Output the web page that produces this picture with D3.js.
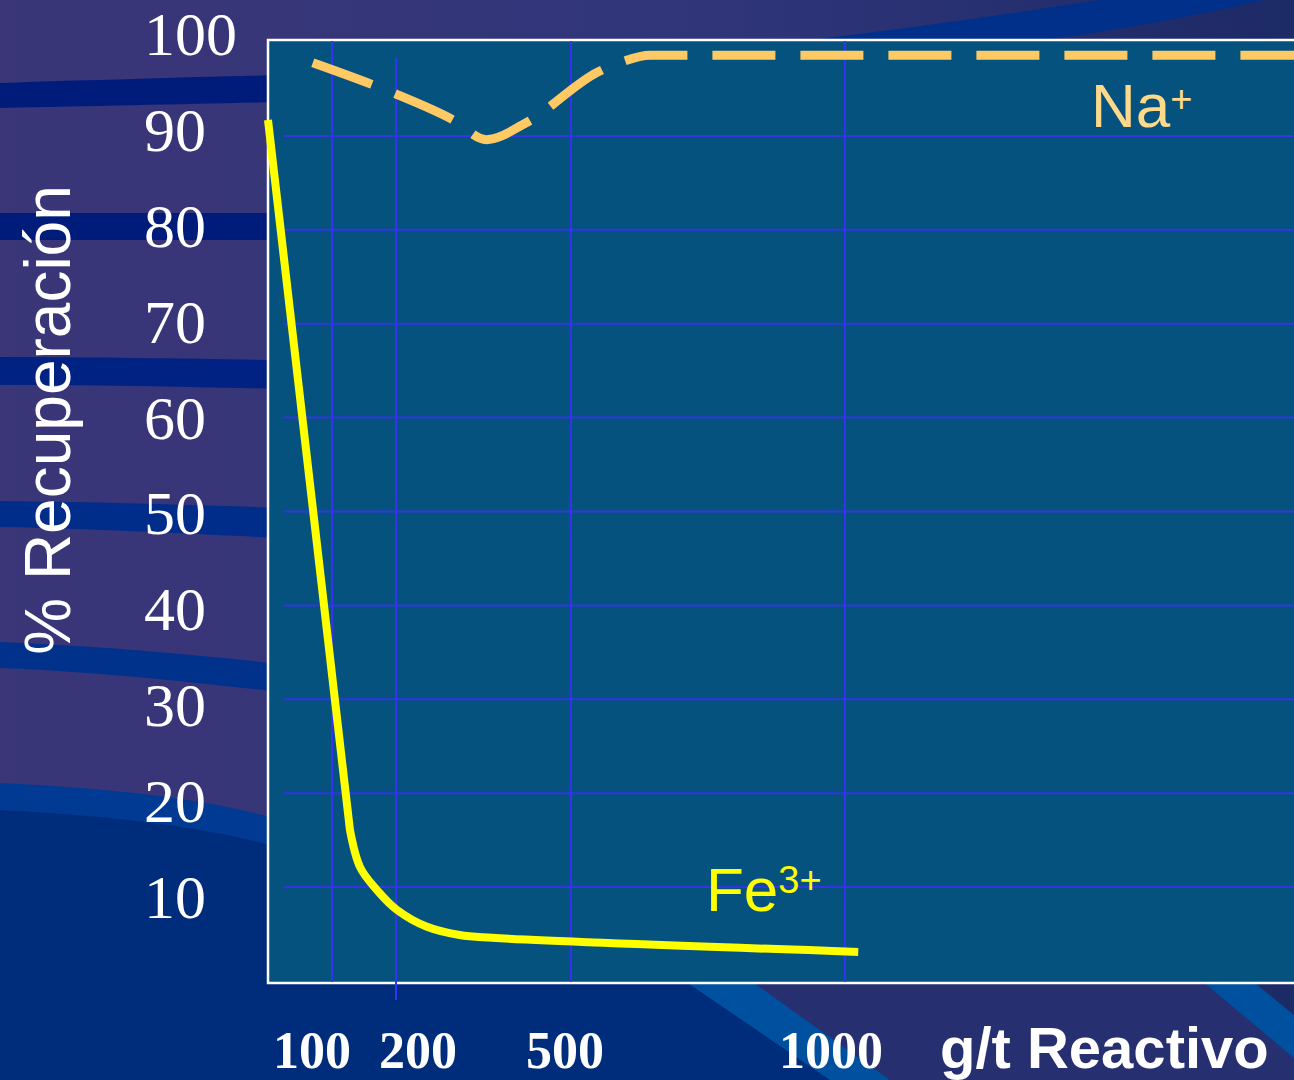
<html>
<head>
<script src="https://d3js.org/d3.v7.min.js"></script>
<style>
body { margin: 0; background: #2a2f72; }
svg { display: block; }
</style>
</head>
<body>
<div id="chart"></div>
<script>
// data
const xTicks = [100, 200, 500, 1000];
const yTicks = [10, 20, 30, 40, 50, 60, 70, 80, 90, 100];

const feX = [0, 128, 144, 170, 201, 252, 309, 365, 1023];
const feY = [91.7, 16.1, 12.1, 9.7, 7.6, 5.8, 4.9, 4.6, 3.1];

const naX = [70, 202, 298, 355, 423, 549, 593, 644, 704, 1780];
const naY = [97.8, 94.4, 91.7, 89.6, 91.4, 96.8, 97.9, 98.6, 98.6, 98.6];

const width = 1294, height = 1080;

// x axis on the slide is not quite linear, so piecewise
var x = d3.scaleLinear()
    .domain([0, 100, 200, 500, 1000, 1780])
    .range([268, 332, 396, 571, 845, 1294]);
var y = d3.scaleLinear()
    .domain([0, 100])
    .range([981, 42]);
// tick labels sit on their own even spacing (baseline positions)
var yLab = d3.scaleLinear()
    .domain([10, 100])
    .range([918, 55]);
var tickNudge = {100: -20, 200: 22, 500: -6, 1000: -14};

const svg = d3.select("#chart").append("svg")
    .attr("width", width)
    .attr("height", height);

// slide background
const defs = svg.append("defs");
const topGrad = defs.append("linearGradient").attr("id", "topg")
    .attr("x1", 0).attr("x2", 1).attr("y1", 0).attr("y2", 0);
topGrad.append("stop").attr("offset", "0").attr("stop-color", "#3a3678");
topGrad.append("stop").attr("offset", "0.55").attr("stop-color", "#30357a");
topGrad.append("stop").attr("offset", "1").attr("stop-color", "#1c2a66");

svg.append("rect").attr("width", width).attr("height", height).attr("fill", "url(#topg)");

// lower navy area
svg.append("path")
    .attr("d", "M0,810 C150,815 230,830 280,845 L280,1080 L0,1080 Z")
    .attr("fill", "#002c7c");
svg.append("path")
    .attr("d", "M0,783 C150,790 230,805 280,820 L280,848 C230,833 150,818 0,810 Z")
    .attr("fill", "#003a92");
svg.append("path")
    .attr("d", "M260,975 L680,975 L833,1080 L260,1080 Z")
    .attr("fill", "#002c7c");

// left stripes
const stripes = [
    ["M0,83 C100,80 200,77 280,75 L280,102 C200,104 100,106 0,108 Z", "#001c7a"],
    ["M0,213 L280,213 L280,240 L0,240 Z", "#001c7a"],
    ["M0,357 C100,357 200,359 280,360 L280,389 C200,387 100,385 0,385 Z", "#002282"],
    ["M0,501 C100,502 200,505 280,508 L280,538 C200,534 100,529 0,527 Z", "#002c8a"],
    ["M0,642 C100,646 200,655 280,664 L280,692 C200,683 100,672 0,668 Z", "#00328c"]
];
svg.selectAll(".stripe").data(stripes).enter().append("path")
    .attr("d", d => d[0]).attr("fill", d => d[1]);

// top right band
svg.append("path")
    .attr("d", "M790,42 C900,30 1000,15 1100,0 L1263,0 C1200,15 1120,30 1030,42 Z")
    .attr("fill", "#00308a");

// bottom diagonal bands
svg.append("path")
    .attr("d", "M676,975 L743,975 L890,1080 L830,1080 Z")
    .attr("fill", "#0050a0");
svg.append("path")
    .attr("d", "M743,975 L1195,975 L1294,1055 L1294,1080 L890,1080 Z")
    .attr("fill", "#262f70");
svg.append("path")
    .attr("d", "M1195,975 L1245,975 L1294,1015 L1294,1058 Z")
    .attr("fill", "#0050a0");

// plot area
svg.append("rect")
    .attr("x", 268).attr("y", 40)
    .attr("width", 1040).attr("height", 943)
    .attr("fill", "#05527f")
    .attr("stroke", "#ffffff")
    .attr("stroke-width", 2.5);

// horizontal grid
svg.selectAll(".hgrid").data(yTicks.filter(d => d < 100)).enter().append("line")
    .attr("x1", 284).attr("x2", width)
    .attr("y1", d => y(d)).attr("y2", d => y(d))
    .attr("stroke", "#3236e0").attr("stroke-width", 2);

// vertical grid
svg.selectAll(".vgrid").data(xTicks).enter().append("line")
    .attr("x1", d => x(d)).attr("x2", d => x(d))
    .attr("y1", d => d === 200 ? 57 : 41)
    .attr("y2", d => d === 200 ? 1000 : 982)
    .attr("stroke", "#3434f0").attr("stroke-width", 2);

// y tick labels
svg.selectAll(".ylab").data(yTicks).enter().append("text")
    .attr("x", 144)
    .attr("y", d => yLab(d))
    .attr("fill", "#ffffff")
    .style("font-family", "'Liberation Serif', 'Times New Roman', serif")
    .style("font-size", "62px")
    .text(d => d);

// x tick labels
svg.selectAll(".xlab").data(xTicks).enter().append("text")
    .attr("x", d => x(d) + tickNudge[d])
    .attr("y", 1068)
    .attr("text-anchor", "middle")
    .attr("fill", "#ffffff")
    .style("font-family", "'Liberation Serif', 'Times New Roman', serif")
    .style("font-weight", "bold")
    .style("font-size", "52px")
    .text(d => d);

// axis titles
svg.append("text")
    .attr("transform", "translate(70,420) rotate(-90)")
    .attr("text-anchor", "middle")
    .attr("fill", "#ffffff")
    .style("font-family", "'Liberation Sans', Arial, sans-serif")
    .style("font-size", "64px")
    .text("% Recuperación");

svg.append("text")
    .attr("x", 940).attr("y", 1068)
    .attr("fill", "#ffffff")
    .style("font-family", "'Liberation Sans', Arial, sans-serif")
    .style("font-weight", "bold")
    .style("font-size", "58px")
    .text("g/t Reactivo");

// curves
var smooth = d3.line()
    .x(d => x(d[0]))
    .y(d => y(d[1]))
    .curve(d3.curveMonotoneX);
var rounded = d3.line()
    .x(d => x(d[0]))
    .y(d => y(d[1]))
    .curve(d3.curveCatmullRom.alpha(0.5));
var straight = d3.line()
    .x(d => x(d[0]))
    .y(d => y(d[1]));

svg.append("path")
    .attr("d", smooth(d3.zip(naX, naY)))
    .attr("fill", "none")
    .attr("stroke", "#ffc964")
    .attr("stroke-width", 9)
    .attr("stroke-dasharray", "63,25");

// Fe3+: straight drop, then smooth tail
var fePts = d3.zip(feX, feY);
svg.append("path")
    .attr("d", straight(fePts.slice(0, 2)) + rounded(fePts.slice(1)).replace(/^M/, "L"))
    .attr("fill", "none")
    .attr("stroke", "#ffff00")
    .attr("stroke-width", 8)
    .attr("stroke-linejoin", "round");

// series labels
var na = svg.append("text")
    .attr("x", 1091).attr("y", 127)
    .attr("fill", "#ffd98a")
    .style("font-family", "'Liberation Sans', Arial, sans-serif")
    .style("font-size", "62px");
na.append("tspan").text("Na");
na.append("tspan").attr("dy", -15).style("font-size", "38px").text("+");

var fe = svg.append("text")
    .attr("x", 706).attr("y", 911)
    .attr("fill", "#ffff00")
    .style("font-family", "'Liberation Sans', Arial, sans-serif")
    .style("font-size", "62px");
fe.append("tspan").text("Fe");
fe.append("tspan").attr("dy", -18).style("font-size", "38px").text("3+");
</script>
</body>
</html>
